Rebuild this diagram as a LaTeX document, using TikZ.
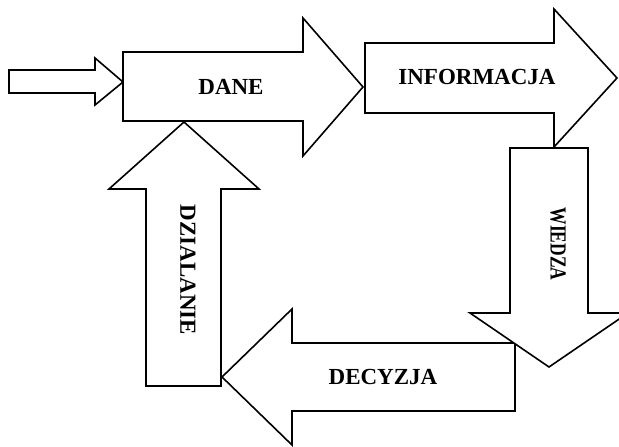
\documentclass[tikz,border=0pt]{standalone}
\usepackage{fontspec}
\setmainfont{Liberation Serif}
\usepackage{graphicx}
\begin{document}
\begin{tikzpicture}[x=1pt,y=-1pt,
  arrowshape/.style={draw=black, line width=1.6pt, fill=white, line join=miter},
  lbl/.style={font=\fontsize{23}{26}\selectfont\bfseries, inner sep=0pt, text=black}]
\useasboundingbox (0,0) rectangle (619,447);
\clip (0,0) rectangle (619,447);
% input arrow
\draw[arrowshape] (9,70) -- (95,70) -- (95,58) -- (123,82) -- (95,105) -- (95,93) -- (9,93) -- cycle;
% DANE
\draw[arrowshape] (123,52) -- (303,52) -- (303,18) -- (363,87) -- (303,156) -- (303,121) -- (123,121) -- cycle;
% INFORMACJA
\draw[arrowshape] (365,43) -- (554,43) -- (554,9) -- (617,78) -- (554,147) -- (554,113) -- (365,113) -- cycle;
% DECYZJA
\draw[arrowshape] (515,343) -- (292,343) -- (292,309) -- (222,377) -- (292,445) -- (292,411) -- (515,411) -- cycle;
% WIEDZA
\draw[arrowshape] (510,148) -- (588,148) -- (588,313) -- (628,313) -- (549,367) -- (470,313) -- (510,313) -- cycle;
% DZIALANIE
\draw[arrowshape] (146,386) -- (146,189) -- (109,189) -- (184,122) -- (259,189) -- (221,189) -- (221,386) -- cycle;
% labels
\node[lbl] (dane) at (231,87) {DANE};
\node[lbl] (informacja) at (477,77) {INFORMACJA};
\node[lbl, rotate=-90] (wiedza) at (558,244) {\scalebox{0.76}[1]{WIEDZA}};
\node[lbl] (decyzja) at (383,377) {DECYZJA};
\node[lbl, rotate=-90] (dzialanie) at (188,270) {DZIALANIE};
\end{tikzpicture}
\end{document}
